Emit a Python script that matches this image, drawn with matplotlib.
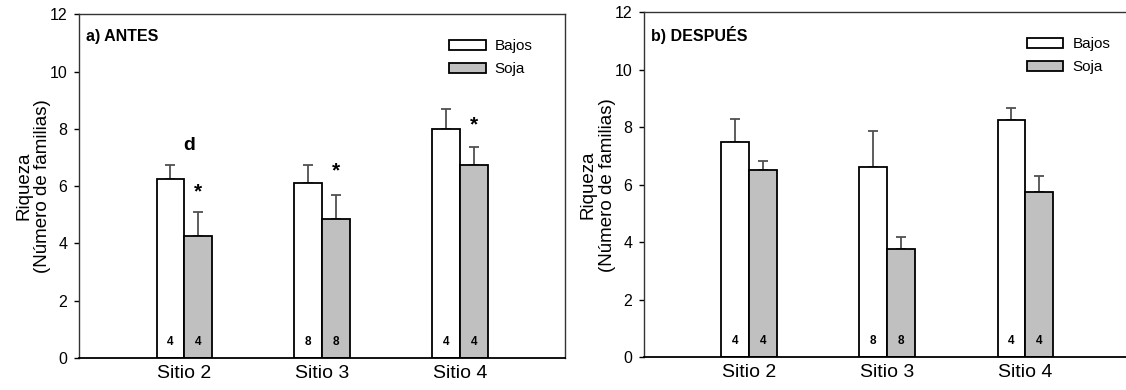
import matplotlib
matplotlib.use("Agg")
import matplotlib.pyplot as plt
import numpy as np

plt.rcParams['font.family'] = ['Liberation Sans', 'DejaVu Sans']

sitios = ['Sitio 2', 'Sitio 3', 'Sitio 4']
series = ['Bajos', 'Soja']
n_muestras = [4, 8, 4]

# a) ANTES
antes_bajos = [6.25, 6.1, 8.0]
antes_bajos_err = [0.48, 0.65, 0.7]
antes_soja = [4.25, 4.85, 6.75]
antes_soja_err = [0.85, 0.83, 0.63]

# b) DESPUÉS
despues_bajos = [7.5, 6.62, 8.25]
despues_bajos_err = [0.78, 1.24, 0.41]
despues_soja = [6.5, 3.75, 5.75]
despues_soja_err = [0.32, 0.44, 0.56]

colores = ['white', '#c0c0c0']
err_color = '#505050'


def panel(ax, bajos, bajos_err, soja, soja_err, titulo, leg_x):
    x = np.arange(1, len(sitios) + 1)
    w = 0.2
    for vals, errs, off, col, lab in [(bajos, bajos_err, -w / 2, colores[0], series[0]),
                                      (soja, soja_err, w / 2, colores[1], series[1])]:
        ax.bar(x + off, vals, w, color=col, edgecolor='black', linewidth=1.3,
               label=lab, zorder=2)
        ax.errorbar(x + off, vals, yerr=[np.zeros(len(vals)), errs], fmt='none',
                    ecolor=err_color, elinewidth=1.3, capsize=3.8, capthick=1.3, zorder=1)
        for xi, n in zip(x + off, n_muestras):
            ax.text(xi, 0.55, str(n), ha='center', va='center', fontsize=8.5,
                    fontweight='bold', zorder=3)

    ax.set_xlim(0.24, 3.76)
    ax.set_ylim(0, 12)
    ax.set_yticks(range(0, 13, 2))
    ax.set_xticks(x)
    ax.set_xticklabels(sitios, fontsize=14)
    ax.tick_params(axis='x', length=0, pad=5)
    ax.tick_params(axis='y', length=3.5, width=1, labelsize=11.5, pad=5, direction='out')
    ax.set_ylabel('Riqueza\n(Número de familias)', fontsize=13.5, linespacing=1.15)
    ax.yaxis.set_label_coords(-0.058, 0.5)
    for s in ax.spines.values():
        s.set_color('#333333')
        s.set_linewidth(1.0)
    ax.spines['bottom'].set_color('black')
    ax.spines['bottom'].set_linewidth(1.3)
    ax.text(0.014, 0.935, titulo, transform=ax.transAxes, fontsize=11.5,
            fontweight='bold', va='center', ha='left')
    ax.legend(loc='upper left', bbox_to_anchor=(leg_x, 0.928), frameon=False,
              fontsize=11, handlelength=2.4, handleheight=0.6, handletextpad=0.6,
              labelspacing=0.6, borderpad=0, borderaxespad=0)
    return x, w


fig = plt.figure(figsize=(11.26, 3.9), dpi=100)
ax1 = fig.add_axes([0.0704, 0.082, 0.4313, 0.881])
ax2 = fig.add_axes([0.572, 0.0846, 0.4316, 0.884])

x, w = panel(ax1, antes_bajos, antes_bajos_err, antes_soja, antes_soja_err, 'a) ANTES', 0.761)
panel(ax2, despues_bajos, despues_bajos_err, despues_soja, despues_soja_err, 'b) DESPUÉS', 0.787)
ax2.spines['right'].set_visible(False)

# significance marks, panel a
ax1.text(x[0] + 0.04, 7.27, 'd', ha='center', va='baseline', fontsize=14, fontweight='bold')
star_y = [5.62, 6.34, 7.95]
for xi, yi in zip(x + w / 2, star_y):
    ax1.text(xi, yi, '*', ha='center', va='baseline', fontsize=15, fontweight='bold')

fig.savefig('out.png', dpi=100)
